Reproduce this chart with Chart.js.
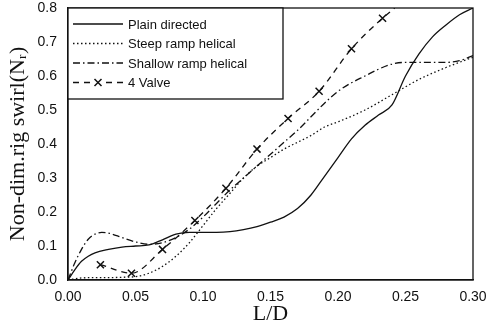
<!DOCTYPE html>
<html>
<head>
<meta charset="utf-8">
<script src="https://cdn.jsdelivr.net/npm/chart.js@4"></script>
<style>
  html, body { margin: 0; padding: 0; background: #fff; }
  #wrap { width: 493px; height: 335px; }
</style>
</head>
<body>
<div id="wrap"><canvas id="chart" width="493" height="335"></canvas></div>
<script>
// ---- data ----
const plainX = [0, 0.005, 0.01, 0.015, 0.02, 0.03, 0.04, 0.05, 0.06, 0.065, 0.07, 0.08, 0.09, 0.10, 0.11, 0.12, 0.13, 0.14, 0.15, 0.16, 0.17, 0.18, 0.19, 0.20, 0.21, 0.22, 0.23, 0.24, 0.25, 0.26, 0.27, 0.28, 0.29, 0.30];
const plainY = [0, 0.03, 0.055, 0.07, 0.08, 0.09, 0.097, 0.1, 0.103, 0.11, 0.118, 0.135, 0.14, 0.14, 0.14, 0.142, 0.148, 0.157, 0.17, 0.185, 0.21, 0.25, 0.305, 0.36, 0.415, 0.455, 0.485, 0.515, 0.6, 0.665, 0.715, 0.75, 0.78, 0.8];

const steepX = [0, 0.01, 0.02, 0.03, 0.04, 0.05, 0.06, 0.07, 0.08, 0.09, 0.10, 0.11, 0.12, 0.13, 0.14, 0.15, 0.16, 0.17, 0.18, 0.19, 0.20, 0.22, 0.24, 0.26, 0.28, 0.30];
const steepY = [0, 0.006, 0.007, 0.007, 0.008, 0.01, 0.02, 0.04, 0.07, 0.11, 0.16, 0.21, 0.255, 0.30, 0.335, 0.36, 0.385, 0.405, 0.425, 0.45, 0.465, 0.50, 0.545, 0.59, 0.625, 0.655];

const shallowX = [0, 0.005, 0.01, 0.015, 0.02, 0.025, 0.03, 0.04, 0.05, 0.06, 0.07, 0.08, 0.09, 0.10, 0.11, 0.12, 0.13, 0.14, 0.15, 0.16, 0.17, 0.18, 0.19, 0.20, 0.21, 0.22, 0.23, 0.24, 0.25, 0.26, 0.27, 0.28, 0.29, 0.30];
const shallowY = [0, 0.05, 0.09, 0.12, 0.135, 0.14, 0.138, 0.125, 0.112, 0.105, 0.11, 0.125, 0.15, 0.185, 0.225, 0.265, 0.30, 0.335, 0.37, 0.405, 0.44, 0.48, 0.52, 0.555, 0.58, 0.60, 0.62, 0.635, 0.64, 0.64, 0.64, 0.64, 0.645, 0.66];

// last point only continues the line to the top edge (no marker)
const valveX = [0.024, 0.047, 0.070, 0.094, 0.117, 0.140, 0.163, 0.186, 0.210, 0.233, 0.242];
const valveY = [0.045, 0.02, 0.09, 0.175, 0.27, 0.385, 0.475, 0.555, 0.68, 0.77, 0.8];

const seriesNames = ['Plain directed', 'Steep ramp helical', 'Shallow ramp helical', '4 Valve'];
const xTicks = [0, 0.05, 0.10, 0.15, 0.20, 0.25, 0.30];
const yTicks = [0, 0.1, 0.2, 0.3, 0.4, 0.5, 0.6, 0.7, 0.8];

const pts = (xs, ys) => xs.map((x, i) => ({ x: x, y: ys[i] }));
const INK = '#111';
const sans = '"Liberation Sans", Arial, Helvetica, sans-serif';
const serif = '"Liberation Serif", "Times New Roman", serif';

function lineSet(label, data, dash, extra) {
    return Object.assign({
        label: label,
        data: data,
        borderColor: INK,
        backgroundColor: INK,
        borderWidth: 1.3,
        borderDash: dash,
        pointRadius: 0,
        fill: false,
        cubicInterpolationMode: 'monotone'
    }, extra || {});
}

// box round the plot + legend box in the top-left corner
const framePlugin = {
    id: 'frame',
    afterDatasetsDraw(chart) {
        const { ctx, chartArea: a } = chart;
        ctx.save();
        ctx.strokeStyle = INK;
        ctx.lineWidth = 1.3;
        ctx.strokeRect(a.left, a.top, a.right - a.left, a.bottom - a.top);

        // legend
        const bx = a.left, by = a.top, bw = 215, bh = 91;
        ctx.fillStyle = '#fff';
        ctx.fillRect(bx, by, bw, bh);
        ctx.strokeRect(bx, by, bw, bh);
        ctx.font = '13px ' + sans;
        ctx.textBaseline = 'middle';
        chart.data.datasets.forEach((ds, i) => {
            const y = by + 16 + i * 19.5;
            ctx.setLineDash(ds.borderDash || []);
            ctx.lineWidth = ds.borderWidth;
            ctx.beginPath();
            ctx.moveTo(bx + 5, y);
            ctx.lineTo(bx + 55, y);
            ctx.stroke();
            ctx.setLineDash([]);
            if (ds.pointStyle === 'crossRot') {
                const cx = bx + 30, r = 3.5;
                ctx.fillStyle = '#fff';
                ctx.fillRect(cx - 5, y - 5, 10, 10);
                ctx.beginPath();
                ctx.moveTo(cx - r, y - r); ctx.lineTo(cx + r, y + r);
                ctx.moveTo(cx + r, y - r); ctx.lineTo(cx - r, y + r);
                ctx.lineWidth = 1.5;
                ctx.stroke();
            }
            ctx.fillStyle = INK;
            ctx.fillText(ds.label, bx + 60, y + 1);
        });
        ctx.restore();
    }
};

new Chart(document.getElementById('chart'), {
    type: 'line',
    data: {
        datasets: [
            lineSet(seriesNames[0], pts(plainX, plainY), []),
            lineSet(seriesNames[1], pts(steepX, steepY), [1.5, 2.5]),
            lineSet(seriesNames[2], pts(shallowX, shallowY), [7, 3, 1.5, 3]),
            lineSet(seriesNames[3], pts(valveX, valveY), [6, 5], {
                pointStyle: 'crossRot',
                pointRadius: valveX.map((x, i) => i < valveX.length - 1 ? 5 : 0),
                pointBorderWidth: 1.5,
                pointBorderColor: INK
            })
        ]
    },
    options: {
        responsive: false,
        animation: false,
        layout: { padding: { top: 8, right: 20, left: 0, bottom: 0 } },
        plugins: { legend: { display: false }, tooltip: { enabled: false } },
        scales: {
            x: {
                type: 'linear',
                min: 0, max: 0.3,
                afterFit(s) { s.height = 55; s.paddingLeft = 0; s.paddingRight = 0; },
                afterBuildTicks(s) { s.ticks = xTicks.map(v => ({ value: v })); },
                grid: { display: false, drawTicks: false },
                border: { display: true, color: INK, width: 1.3 },
                ticks: {
                    padding: 9,
                    color: INK,
                    font: { family: sans, size: 14, lineHeight: 1.2 },
                    callback: v => Number(v).toFixed(2)
                },
                title: {
                    display: true, text: 'L/D', color: INK,
                    font: { family: serif, size: 22, lineHeight: 1.2 },
                    padding: { top: 0, bottom: 8 }
                }
            },
            y: {
                type: 'linear',
                min: 0, max: 0.8,
                afterFit(s) { s.width = 68; s.paddingTop = 0; s.paddingBottom = 0; },
                afterBuildTicks(s) { s.ticks = yTicks.map(v => ({ value: v })); },
                grid: { display: false, drawTicks: false },
                border: { display: true, color: INK, width: 1.3 },
                ticks: {
                    padding: 11,
                    color: INK,
                    font: { family: sans, size: 14, lineHeight: 1.2 },
                    callback: v => Number(v).toFixed(1)
                },
                title: {
                    display: true, text: 'Non-dim.rig swirl(N\u1D63)', color: INK,
                    font: { family: serif, size: 22, lineHeight: 1.2 },
                    padding: { top: 5, bottom: 0 }
                }
            }
        }
    },
    plugins: [framePlugin]
});
</script>
</body>
</html>
